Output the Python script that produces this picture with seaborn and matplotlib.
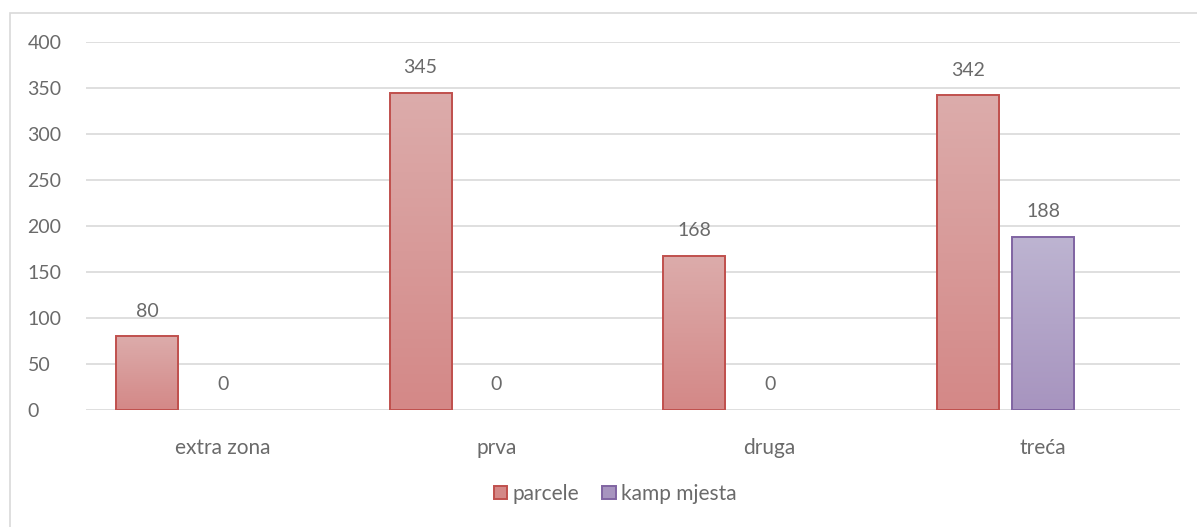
import numpy as np
import matplotlib.pyplot as plt
import seaborn as sns
import pandas as pd
from matplotlib.patches import Patch, Rectangle
from matplotlib.colors import LinearSegmentedColormap

zones = ["extra zona", "prva", "druga", "treća"]
parcele = [80, 345, 168, 342]
kamp_mjesta = [0, 0, 0, 188]
series_names = ["parcele", "kamp mjesta"]

fills = {"parcele": ("#dcacab", "#d48887"), "kamp mjesta": ("#bdb4d1", "#a794bf")}
edges = {"parcele": "#c0504d", "kamp mjesta": "#8064a2"}
txt = "#6a6a6a"


def main():
    sns.set_style("white")
    plt.rcParams["font.family"] = ["Lato", "DejaVu Sans"]

    df = pd.DataFrame({
        "zona": zones * 2,
        "serija": ["parcele"] * 4 + ["kamp mjesta"] * 4,
        "vrijednost": parcele + kamp_mjesta,
    })

    fig = plt.figure(figsize=(11.97, 5.27), dpi=100)
    ax = fig.add_axes([0.0718, 0.222, 0.914, 0.698])

    # third (empty) slot keeps the Excel-like offsets of the clustered bars
    sns.barplot(data=df, x="zona", y="vrijednost", hue="serija",
                hue_order=series_names + [" "], order=zones,
                width=0.83, gap=0.18, ax=ax, legend=False,
                palette={"parcele": "#d89897", "kamp mjesta": "#b1a3c8", " ": "white"})

    ax.set_yticks(np.arange(0, 401, 50))
    ax.yaxis.grid(True, color="#d9d9d9", linewidth=1.2)
    ax.set_axisbelow(True)
    for s in ax.spines.values():
        s.set_visible(False)
    ax.tick_params(axis="y", length=0, labelsize=14, labelcolor=txt, pad=42)
    ax.tick_params(axis="x", length=0, labelsize=15, labelcolor=txt, pad=20)
    for lab in ax.get_yticklabels():
        lab.set_horizontalalignment("left")
    ax.set_xlabel("")
    ax.set_ylabel("")

    # gradient fill clipped to each bar
    for cont, name in zip(ax.containers, series_names):
        cmap = LinearSegmentedColormap.from_list(name, [fills[name][1], fills[name][0]])
        grad = np.linspace(0, 1, 256).reshape(-1, 1)
        for bar in cont:
            x0, y0 = bar.get_x(), bar.get_y()
            w, h = bar.get_width(), bar.get_height()
            bar.set_edgecolor(edges[name])
            bar.set_linewidth(1.4)
            if h > 0:
                im = ax.imshow(grad, cmap=cmap, origin="lower", aspect="auto",
                               extent=[x0, x0 + w, y0, y0 + h], zorder=bar.get_zorder() - 0.1)
                im.set_clip_path(bar)
                bar.set_facecolor("none")
            else:
                bar.set_visible(False)
        ax.bar_label(cont, labels=[f"{v:.0f}" for v in cont.datavalues],
                     padding=12, fontsize=14, color=txt)
    ax.set_xlim(-0.5, 3.5)
    ax.set_ylim(0, 400)

    handles = [Patch(facecolor=fills[n][1], edgecolor=edges[n], linewidth=1.4, label=n)
               for n in series_names]
    fig.legend(handles=handles, loc="center", bbox_to_anchor=(0.514, 0.063), ncol=2,
               frameon=False, fontsize=15, labelcolor=txt, handlelength=0.65,
               handleheight=0.65, handletextpad=0.25, columnspacing=1.1)

    fig.patches.append(Rectangle((10 / 1197, -0.1), 1.2, 1 - 13 / 527 + 0.1,
                                 transform=fig.transFigure, fill=False,
                                 edgecolor="#d9d9d9", linewidth=1.2))

    fig.savefig("out.png", dpi=100)


if __name__ == "__main__":
    main()
